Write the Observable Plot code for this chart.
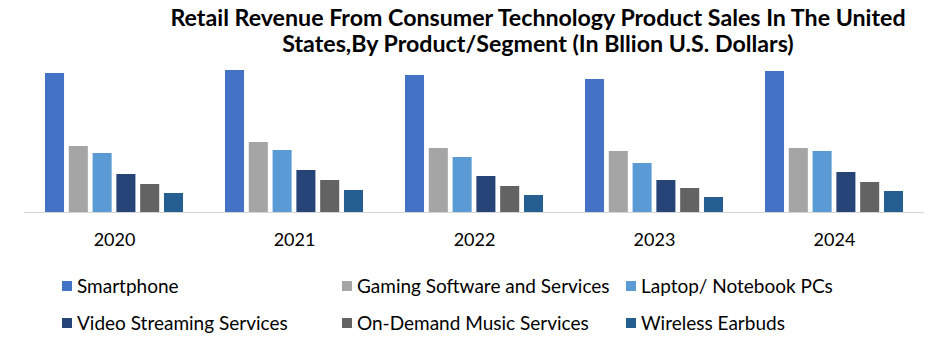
<!DOCTYPE html>
<html>
<head>
<meta charset="utf-8">
<script src="https://cdn.jsdelivr.net/npm/d3@7"></script>
<script src="https://cdn.jsdelivr.net/npm/@observablehq/plot@0.6"></script>
<style>
  html, body { margin: 0; padding: 0; background: #fff; }
  #wrap { position: relative; width: 948px; height: 352px; overflow: hidden; font-family: Lato, "Open Sans", sans-serif; color: #000; }
  .title { position: absolute; white-space: nowrap; font-weight: bold; font-size: 23.2px; line-height: 1; transform: translateX(-50%); }
  #chart { position: absolute; left: 0; top: 62px; }
  .leg { position: absolute; display: flex; align-items: center; font-size: 19px; white-space: nowrap; line-height: 1; }
  .sw { width: 10px; height: 10px; margin-right: 5px; flex: none; }
</style>
</head>
<body>
<div id="wrap">
  <div class="title" id="t1" style="left:538px; top:6px;"></div>
  <div class="title" id="t2" style="left:538px; top:32px;"></div>
  <div id="chart"></div>
  <div id="legend"></div>
</div>
<script>
const titleLines = [
  "Retail Revenue From Consumer Technology Product Sales In The United",
  "States,By Product/Segment (In Bllion U.S. Dollars)"
];
const years = ["2020", "2021", "2022", "2023", "2024"];
const segments = [
  "Smartphone",
  "Gaming Software and Services",
  "Laptop/ Notebook PCs",
  "Video Streaming Services",
  "On-Demand Music Services",
  "Wireless Earbuds"
];
const smartphone = [139, 142, 137, 133, 141];
const gaming     = [66, 70, 64, 61, 64];
const laptop     = [59, 62, 55, 49, 61];
const video      = [38, 42, 36, 32, 40];
const music      = [28, 32, 26, 24, 30];
const earbuds    = [19, 22, 17, 15, 21];
const colors = ["#4472C4", "#A5A5A5", "#5B9BD5", "#264478", "#636363", "#255E91"];

const series = [smartphone, gaming, laptop, video, music, earbuds];
const data = years.flatMap((yr, i) => segments.map((s, j) => ({year: yr, segment: s, value: series[j][i]})));

document.getElementById("t1").textContent = titleLines[0];
document.getElementById("t2").textContent = titleLines[1];

const chart = Plot.plot({
  width: 948,
  height: 198,
  marginTop: 8,
  marginBottom: 48,
  marginLeft: 24,
  marginRight: 24,
  style: {fontFamily: "Lato, 'Open Sans', sans-serif", color: "#000", background: "transparent"},
  fx: {domain: years, paddingInner: 0.2333, paddingOuter: 0.1167, round: false, label: null},
  x: {domain: segments, paddingInner: 0.2, paddingOuter: 0, round: false, axis: null},
  y: {domain: [0, 142], axis: null},
  color: {domain: segments, range: colors},
  marks: [
    Plot.ruleY([0], {stroke: "#d4d4d4", strokeWidth: 1, insetLeft: -21, insetRight: -21}),
    Plot.barY(data, {fx: "year", x: "segment", y: "value", fill: "segment"}),
    Plot.axisFx({anchor: "bottom", tickSize: 0, tickPadding: 21, fontSize: 18, label: null})
  ]
});
document.getElementById("chart").appendChild(chart);

// legend, built from the same color scale
const color = chart.scale("color");
const legPos = [[62, 276], [342, 276], [626, 276], [62, 313], [342, 313], [626, 313]];
const legend = document.getElementById("legend");
segments.forEach((s, i) => {
  const d = document.createElement("div");
  d.className = "leg";
  d.style.left = legPos[i][0] + "px";
  d.style.top = legPos[i][1] + "px";
  const sw = document.createElement("span");
  sw.className = "sw";
  sw.style.background = color.apply(s);
  const t = document.createElement("span");
  t.textContent = s;
  d.appendChild(sw); d.appendChild(t);
  legend.appendChild(d);
});
</script>
</body>
</html>
